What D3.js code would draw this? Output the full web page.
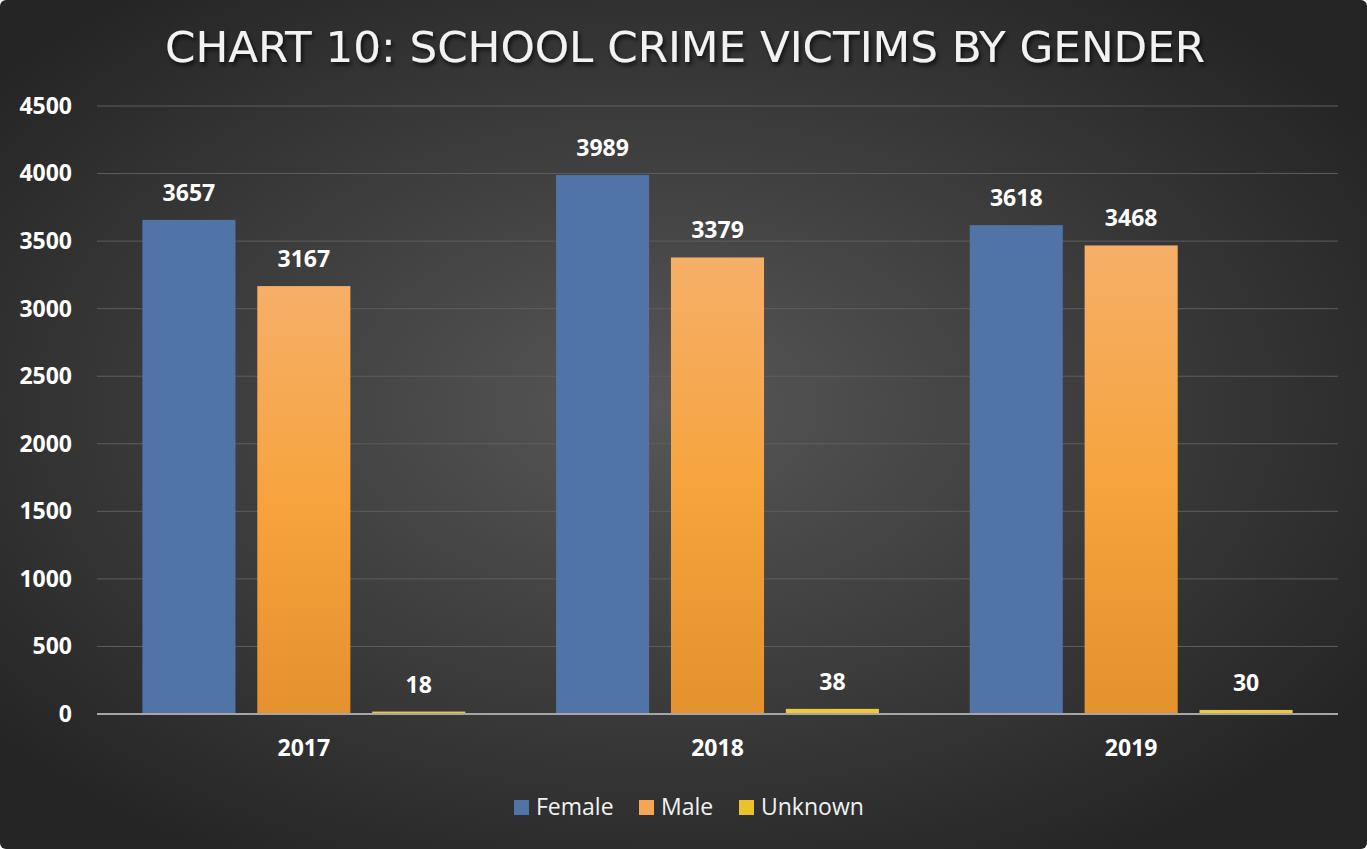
<!DOCTYPE html>
<html>
<head>
<meta charset="utf-8">
<script src="https://cdn.jsdelivr.net/npm/d3@7"></script>
<style>
  body { margin: 0; background: #ffffff; }
  svg { display: block; }
</style>
</head>
<body>
<div id="chart"></div>
<script>
// data
var years = ["2017", "2018", "2019"];
var seriesNames = ["Female", "Male", "Unknown"];
var female = [3657, 3989, 3618];
var male = [3167, 3379, 3468];
var unknown = [18, 38, 30];
var yTicks = [0, 500, 1000, 1500, 2000, 2500, 3000, 3500, 4000, 4500];

var W = 1367, H = 849;
var margin = {top: 106, right: 29, bottom: 135, left: 97};
var width = W - margin.left - margin.right,
    height = H - margin.top - margin.bottom;

var svg = d3.select("#chart").append("svg")
    .attr("width", W).attr("height", H);

var defs = svg.append("defs");
var bg = defs.append("radialGradient").attr("id", "bgGrad")
    .attr("cx", "48%").attr("cy", "48%").attr("r", "62%");
bg.append("stop").attr("offset", "0%").attr("stop-color", "#575757");
bg.append("stop").attr("offset", "100%").attr("stop-color", "#252525");

var maleGrad = defs.append("linearGradient").attr("id", "maleGrad")
    .attr("x1", 0).attr("y1", 0).attr("x2", 0).attr("y2", 1);
maleGrad.append("stop").attr("offset", "0%").attr("stop-color", "#F6AF68");
maleGrad.append("stop").attr("offset", "50%").attr("stop-color", "#F7A43E");
maleGrad.append("stop").attr("offset", "100%").attr("stop-color", "#E4912E");

var shadow = defs.append("filter").attr("id", "txtShadow")
    .attr("x", "-5%").attr("y", "-20%").attr("width", "110%").attr("height", "150%");
shadow.append("feDropShadow").attr("dx", 2).attr("dy", 3).attr("stdDeviation", 2)
    .attr("flood-color", "#000").attr("flood-opacity", 0.7);

svg.append("rect").attr("x", 0).attr("y", 0).attr("width", W).attr("height", H)
    .attr("rx", 6).attr("fill", "url(#bgGrad)");

// title
svg.append("text")
    .attr("x", 685).attr("y", 62)
    .attr("text-anchor", "middle")
    .attr("textLength", 1040)
    .attr("lengthAdjust", "spacingAndGlyphs")
    .attr("filter", "url(#txtShadow)")
    .style("font-family", "'Liberation Sans Narrow', 'DejaVu Sans Condensed', sans-serif")
    .style("font-weight", 400)
    .style("font-size", "42px")
    .style("fill", "#F2F2F2")
    .text("CHART 10: SCHOOL CRIME VICTIMS BY GENDER");

var g = svg.append("g").attr("transform", "translate(" + margin.left + "," + margin.top + ")");

var x0 = d3.scaleBand().domain(years).range([0, width]);
var x1 = d3.scaleBand().domain(seriesNames).range([0, x0.bandwidth()])
    .paddingInner(0.19).paddingOuter(0.395);
var y = d3.scaleLinear().domain([0, 4500]).range([height, 0]);

// gridlines
g.selectAll(".grid").data(yTicks.slice(1)).enter().append("line")
    .attr("x1", 0).attr("x2", width)
    .attr("y1", function(d) { return y(d); })
    .attr("y2", function(d) { return y(d); })
    .attr("stroke", "#5E5E5E").attr("stroke-width", 1);

// y labels
var yAxis = d3.axisLeft(y).tickValues(yTicks).tickFormat(d3.format("d"))
    .tickSize(0).tickPadding(25);
var yg = g.append("g").call(yAxis);
yg.select(".domain").remove();
yg.selectAll("text")
    .style("font-family", "'Open Sans', sans-serif")
    .style("font-weight", 700)
    .style("font-size", "23px")
    .style("fill", "#FFFFFF");

var colors = {Female: "#4F74A5", Male: "url(#maleGrad)", Unknown: "#F1C83B"};
var legendColors = {Female: "#4F74A5", Male: "#F5A654", Unknown: "#ECC22A"};

var rows = years.map(function(yr, i) {
    return {year: yr, values: [
        {name: "Female", v: female[i]},
        {name: "Male", v: male[i]},
        {name: "Unknown", v: unknown[i]}
    ]};
});

var grp = g.selectAll(".yr").data(rows).enter().append("g")
    .attr("transform", function(d) { return "translate(" + x0(d.year) + ",0)"; });

grp.selectAll("rect").data(function(d) { return d.values; }).enter().append("rect")
    .attr("x", function(d) { return x1(d.name); })
    .attr("width", x1.bandwidth())
    .attr("y", function(d) { return y(d.v); })
    .attr("height", function(d) { return height - y(d.v); })
    .attr("fill", function(d) { return colors[d.name]; });

grp.selectAll(".lbl").data(function(d) { return d.values; }).enter().append("text")
    .attr("x", function(d) { return x1(d.name) + x1.bandwidth() / 2; })
    .attr("y", function(d) { return y(d.v) - 19; })
    .attr("text-anchor", "middle")
    .style("font-family", "'Open Sans', sans-serif")
    .style("font-weight", 700)
    .style("font-size", "23px")
    .style("fill", "#FFFFFF")
    .text(function(d) { return d.v; });

// baseline
g.append("line").attr("x1", 0).attr("x2", width)
    .attr("y1", height).attr("y2", height)
    .attr("stroke", "#A6A6A6").attr("stroke-width", 2);

// x labels
var xAxis = d3.axisBottom(x0).tickSize(0).tickPadding(26);
var xg = g.append("g").attr("transform", "translate(0," + height + ")").call(xAxis);
xg.select(".domain").remove();
xg.selectAll("text")
    .style("font-family", "'Open Sans', sans-serif")
    .style("font-weight", 700)
    .style("font-size", "23px")
    .style("fill", "#FFFFFF");

// legend
var legendX = [514, 639, 739];
var leg = svg.selectAll(".leg").data(seriesNames).enter().append("g")
    .attr("transform", function(d, i) { return "translate(" + legendX[i] + ",800)"; });
leg.append("rect").attr("width", 15).attr("height", 15)
    .attr("fill", function(d) { return legendColors[d]; });
leg.append("text").attr("x", 22).attr("y", 15)
    .style("font-family", "'Open Sans', sans-serif")
    .style("font-size", "23px")
    .style("fill", "#F2F2F2")
    .text(function(d) { return d; });
</script>
</body>
</html>
